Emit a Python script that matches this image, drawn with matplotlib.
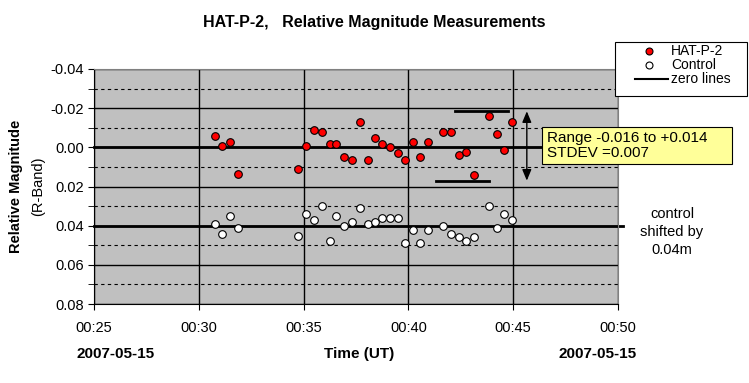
import numpy as np
import matplotlib
matplotlib.use("Agg")
import matplotlib.pyplot as plt
from matplotlib.patches import Rectangle
from matplotlib.lines import Line2D

plt.rcParams['font.family'] = ['Liberation Sans', 'DejaVu Sans']

# times in minutes after 00:00 UT
times = [30.75, 31.13, 31.51, 31.86, 34.75, 35.13, 35.48, 35.86, 36.24, 36.56,
         36.94, 37.32, 37.67, 38.05, 38.43, 38.75, 39.13, 39.51, 39.86, 40.24,
         40.56, 40.94, 41.67, 42.05, 42.43, 42.75, 43.13, 43.86, 44.24, 44.56, 44.94]
hatp2 = [-0.0056, -0.0005, -0.0026, 0.0134, 0.0112, -0.0005, -0.0087, -0.0077, -0.0017, -0.0017,
         0.0049, 0.0063, -0.0128, 0.0063, -0.0048, -0.0015, 0.0000, 0.0031, 0.0063, -0.0026,
         0.0049, -0.0026, -0.0077, -0.0077, 0.0039, 0.0022, 0.0141, -0.0158, -0.0066, 0.0012, -0.0128]
control = [0.0393, 0.0444, 0.0352, 0.0413, 0.0454, 0.0342, 0.0372, 0.0301, 0.0478, 0.0352,
           0.0403, 0.0379, 0.0311, 0.0393, 0.0379, 0.0362, 0.0362, 0.0362, 0.0490, 0.0423,
           0.0490, 0.0423, 0.0403, 0.0444, 0.0459, 0.0480, 0.0459, 0.0301, 0.0413, 0.0342, 0.0372]
zero_levels = [0.00, 0.04]
range_lo, range_hi = -0.016, 0.014
x_ticks = [25, 30, 35, 40, 45, 50]
x_labels = ['00:25', '00:30', '00:35', '00:40', '00:45', '00:50']
y_ticks = [-0.04, -0.02, 0.00, 0.02, 0.04, 0.06, 0.08]
y_minor = [-0.03, -0.01, 0.01, 0.03, 0.05, 0.07]

W, H = 749, 383


def fx(px):
    return px / W


def fy(py):
    return 1 - py / H


fig = plt.figure(figsize=(7.49, 3.83), dpi=100)
ax = fig.add_axes([fx(94), fy(304), 524 / W, 235 / H])
ax.set_facecolor('#C0C0C0')

for y in y_ticks:
    ax.axhline(y, color='black', lw=1, zorder=1)
for y in y_minor:
    ax.axhline(y, color='black', lw=0.8, ls=(0, (3, 3)), zorder=1)
for x in x_ticks:
    ax.axvline(x, color='black', lw=1, zorder=1)

for z in zero_levels:
    ax.plot([25, 50.25], [z, z], color='black', lw=2, zorder=2, clip_on=False)

ax.plot(times, hatp2, 'o', color='red', mec='black', mew=0.8, ms=5.5, zorder=4)
ax.plot(times, control, 'o', color='white', mec='black', mew=0.8, ms=5.5, zorder=4)

# range markers
ax.plot([42.2, 44.75], [range_lo - 0.0024, range_lo - 0.0024], color='black', lw=2, zorder=3)
ax.plot([41.3, 43.85], [range_hi + 0.003, range_hi + 0.003], color='black', lw=2, zorder=3)
ax.annotate('', xy=(45.65, range_lo - 0.0024), xytext=(45.65, range_hi + 0.003),
            arrowprops=dict(arrowstyle='<|-|>,head_length=0.6,head_width=0.25', color='black',
                            lw=1, mutation_scale=11, shrinkA=0, shrinkB=0), zorder=3)

ax.set_xlim(25, 50)
ax.set_ylim(0.08, -0.04)
ax.set_xticks(x_ticks)
ax.set_xticklabels(x_labels)
ax.set_yticks(y_ticks)
ax.set_yticklabels([f'{v:.2f}' for v in y_ticks])
ax.set_yticks(y_minor, minor=True)
ax.tick_params(labelsize=10.5, length=4, direction='out', pad=8)
ax.tick_params(axis='y', pad=3)
ax.tick_params(axis='y', which='minor', length=4)
for s in ['top', 'right']:
    ax.spines[s].set_color('#808080')

# range / stdev box
fig.patches.append(Rectangle((fx(542), fy(164)), 190 / W, 37 / H, transform=fig.transFigure,
                             fc='#FFFF99', ec='black', lw=0.8, zorder=6))
fig.text(fx(547), fy(145.5), 'Range -0.016 to +0.014\nSTDEV =0.007', fontsize=11,
         ha='left', va='center', linespacing=1.1, zorder=7)

fig.text(0.5, fy(23), 'HAT-P-2,   Relative Magnitude Measurements', ha='center', va='center',
         fontsize=11.5, fontweight='bold')
fig.text(fx(16), fy(186), 'Relative Magnitude', rotation=90, ha='center', va='center',
         fontsize=10.5, fontweight='bold')
fig.text(fx(38), fy(186), '(R-Band)', rotation=90, ha='center', va='center', fontsize=10.5)
fig.text(fx(359), fy(354), 'Time (UT)', ha='center', va='center', fontsize=11, fontweight='bold')
fig.text(fx(116), fy(354), '2007-05-15', ha='center', va='center', fontsize=11, fontweight='bold')
fig.text(fx(598), fy(354), '2007-05-15', ha='center', va='center', fontsize=11, fontweight='bold')
fig.text(fx(672), fy(232), 'control\nshifted by\n0.04m', ha='center', va='center', fontsize=10.5,
         linespacing=1.35)

# legend
fig.patches.append(Rectangle((fx(615), fy(96)), 132 / W, 54 / H, transform=fig.transFigure,
                             fc='white', ec='black', lw=0.8))
fig.lines.append(Line2D([fx(649)], [fy(51)], marker='o', color='red', mec='black', mew=0.8,
                        ms=5, transform=fig.transFigure))
fig.lines.append(Line2D([fx(649)], [fy(65)], marker='o', color='white', mec='black', mew=0.8,
                        ms=5, transform=fig.transFigure))
fig.lines.append(Line2D([fx(635), fx(668)], [fy(79), fy(79)], color='black', lw=1.5,
                        transform=fig.transFigure))
for lab, yy in zip(['HAT-P-2', 'Control', 'zero lines'], [51, 65, 79]):
    fig.text(fx(671), fy(yy), lab, ha='left', va='center', fontsize=10)

fig.savefig('out.png', dpi=100)
